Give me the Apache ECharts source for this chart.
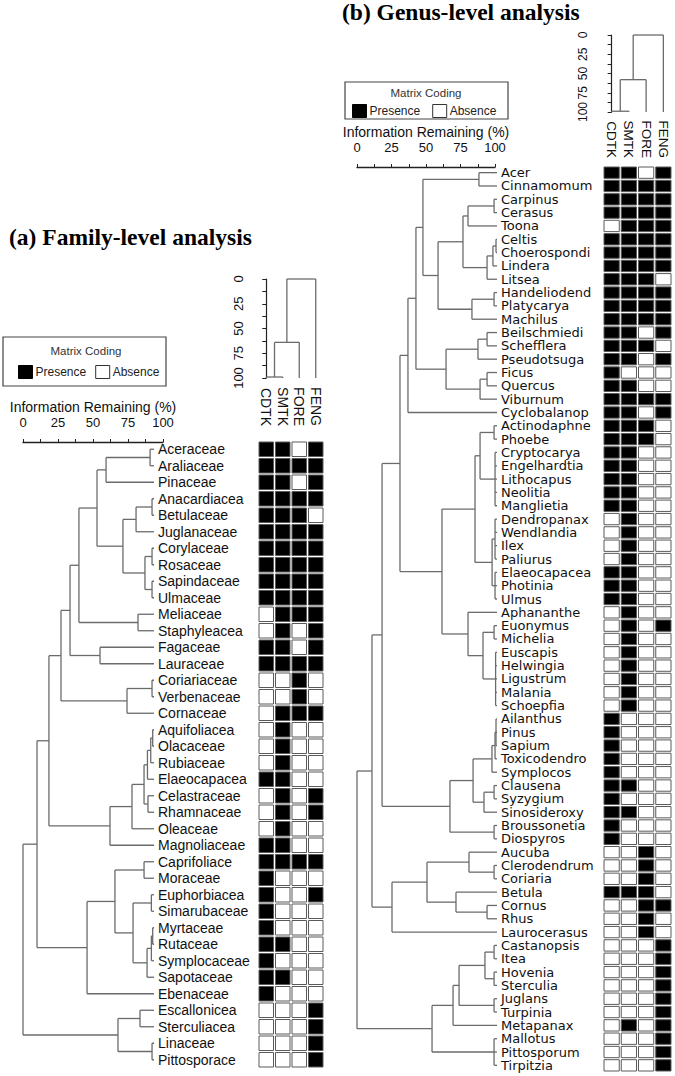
<!DOCTYPE html>
<html><head><meta charset="utf-8">
<script src="https://cdn.jsdelivr.net/npm/echarts@6/dist/echarts.min.js"></script>
<style>html,body{margin:0;padding:0;background:#fff}#c{width:675px;height:1076px}</style>
</head><body><div id="c"></div>
<script>
// ---------------- DATA ----------------
const sites = ['CDTK', 'SMTK', 'FORE', 'FENG'];

const familyNames = ['Aceraceae','Araliaceae','Pinaceae','Anacardiacea','Betulaceae','Juglanaceae','Corylaceae','Rosaceae','Sapindaceae','Ulmaceae','Meliaceae','Staphyleacea','Fagaceae','Lauraceae','Coriariaceae','Verbenaceae','Cornaceae','Aquifoliacea','Olacaceae','Rubiaceae','Elaeocapacea','Celastraceae','Rhamnaceae','Oleaceae','Magnoliaceae','Caprifoliace','Moraceae','Euphorbiacea','Simarubaceae','Myrtaceae','Rutaceae','Symplocaceae','Sapotaceae','Ebenaceae','Escallonicea','Sterculiacea','Linaceae','Pittosporace'];

// presence (1) / absence (0) per site: CDTK, SMTK, FORE, FENG
const familyMatrix = [
  [1,1,0,1],[1,1,1,1],[1,1,0,1],[1,1,1,1],[1,1,1,0],[1,1,1,1],[1,1,1,1],[1,1,1,1],[1,1,1,1],[1,1,1,1],
  [0,1,1,1],[0,1,0,1],[1,1,0,1],[1,1,1,1],[0,0,1,0],[0,0,1,0],[0,1,1,1],[0,1,0,0],[0,1,0,0],[0,1,0,0],
  [1,1,0,0],[0,1,0,1],[0,1,0,1],[0,1,0,0],[1,1,0,0],[1,1,1,1],[1,0,0,0],[1,0,0,1],[1,0,0,0],[1,0,0,0],
  [1,1,0,0],[1,0,0,0],[1,1,0,0],[1,0,0,0],[0,0,0,1],[0,0,0,1],[0,0,0,1],[0,0,0,1]
];

// dendrogram: [information remaining (%), child, child, ...]; numbers = leaf row index
const familyTree = [0,
  [10.7,
    [19.8,
      [29,
        [35.9,
          [42.7,
            [56.5,
              [63.4, [97, 0, 1], 2],
              [76.3, [86.3, [98.5, 3, 4], 5], [93.1, [98.5, 6, 7], [98.5, 8, 9]]]],
            [87.8, 10, 11]],
          [58.8, 12, 13]],
        [79.4, [98.5, 14, 15], 16]],
      [66.4, [83.2, [92.4, [95, [97.5, [99, 17, 18], 19], 20], [95.4, 21, 22]], 23], 24]],
    [48.9, [70.2, [92.4, 25, 26], [84, [98, 27, 28], [94.7, [98, [99, 29, 30], 31], 32]]], 33]],
  [72.5, [89.3, 34, 35], [98.5, 36, 37]]];

const familySiteTree = [0, [64, [99, 0, 1], 2], 3];

const genusNames = ['Acer','Cinnamomum','Carpinus','Cerasus','Toona','Celtis','Choerospondi','Lindera','Litsea','Handeliodend','Platycarya','Machilus','Beilschmiedi','Schefflera','Pseudotsuga','Ficus','Quercus','Viburnum','Cyclobalanop','Actinodaphne','Phoebe','Cryptocarya','Engelhardtia','Lithocapus','Neolitia','Manglietia','Dendropanax','Wendlandia','Ilex','Paliurus','Elaeocapacea','Photinia','Ulmus','Aphananthe','Euonymus','Michelia','Euscapis','Helwingia','Ligustrum','Malania','Schoepfia','Ailanthus','Pinus','Sapium','Toxicodendro','Symplocos','Clausena','Syzygium','Sinosideroxy','Broussonetia','Diospyros','Aucuba','Clerodendrum','Coriaria','Betula','Cornus','Rhus','Laurocerasus','Castanopsis','Itea','Hovenia','Sterculia','Juglans','Turpinia','Metapanax','Mallotus','Pittosporum','Tirpitzia'];

const genusMatrix = [
  [1,1,0,1],[1,1,1,1],[1,1,1,1],[1,1,1,1],[0,1,1,1],[1,1,1,1],[1,1,1,1],[1,1,1,1],[1,1,1,0],[1,1,1,1],
  [1,1,1,1],[1,1,1,1],[1,1,0,1],[1,1,1,0],[1,1,0,1],[1,0,0,0],[1,1,0,0],[1,1,1,1],[1,1,0,1],[1,1,1,0],
  [1,1,1,0],[1,1,0,0],[1,1,0,0],[1,1,0,0],[1,1,0,0],[1,1,0,0],[0,1,0,0],[0,1,0,0],[0,1,0,0],[0,1,0,0],
  [1,1,0,0],[1,1,0,0],[1,1,0,0],[0,1,0,0],[0,1,0,1],[0,1,0,0],[0,1,0,0],[0,1,0,0],[0,1,0,0],[0,1,0,0],
  [0,1,0,0],[1,0,0,0],[1,0,0,0],[1,0,0,0],[1,0,0,0],[1,0,0,0],[1,1,0,0],[1,0,0,0],[1,1,0,0],[1,0,0,0],
  [1,0,0,0],[0,0,1,0],[0,0,1,0],[0,0,1,0],[1,1,1,0],[0,0,1,1],[0,0,1,0],[0,0,1,0],[0,0,0,1],[0,0,0,1],
  [0,0,0,1],[0,0,0,1],[0,0,0,1],[0,0,0,1],[0,1,0,1],[0,0,0,1],[0,0,0,1],[0,0,0,1]
];

const genusTree = [0,
  [10.7,
    [17.9,
      [30.7,
        [36.4,
          [42.1,
            [47.1, [87.1, 0, 1],
              [57.9,
                [75.7, [79.3, [97.9, 2, 3], 4], [92.9, [97.1, [99.3, 5, 6], 7], 8]],
                [82.1, [97.9, 9, 10], 11]]],
            [63.6, [86.4, [92.9, 12, 13], 14], [87.9, [92.9, 15, 16], 17]]],
          18],
        [60.7,
          [84.3,
            [87.9, [97.9, 19, 20], [98.6, 21, 22, 23, 24, 25]],
            [96.5, [98.6, 26, 27, 28, 29], [98.6, 30, 31, 32]]],
          [79.3, 33, [90, [97.9, 34, 35], [99, 36, 37, 38, 39, 40]]]]],
      [66.4,
        [82.9, [96.4, [98.6, [99.3, 41, 42, 43], 44], 45], [90.7, [97.9, 46, 47], 48]],
        [97.9, 49, 50]]],
    [25, [50, [80, 51, [97.9, 52, 53]], [70.7, 54, [92.9, 55, 56]]], 57]],
  [53.6, [68.6, [72.9, [91.4, [97.9, 58, 59], [97.9, 60, 61]], [97.9, 62, 63]], 64], [97.9, 65, 66, 67]]];

const genusSiteTree = [0, [58, [99, 0, 1], 2], 3];

// ---------------- HELPERS ----------------
// turns a nested tree into segments [h1, pos1, h2, pos2] in data units
function treeSegments(tree) {
  const segs = [];
  (function walk(node) {
    if (typeof node === 'number') return { h: 100, p: node };
    const h = node[0];
    const kids = node.slice(1).map(walk);
    const a = kids[0].p, b = kids[kids.length - 1].p;
    segs.push([h, a, h, b]);
    kids.forEach(k => segs.push([h, k.p, k.h, k.p]));
    return { h: h, p: (a + b) / 2 };
  })(tree);
  return segs;
}
function cells(matrix, val) {
  const out = [];
  matrix.forEach((row, r) => row.forEach((v, c) => { if (v === val) out.push([c, r]); }));
  return out;
}

const LINE = '#6b6b6b';
const SANS = 'Liberation Sans, Arial, sans-serif';
const WIDE = 'DejaVu Sans, Verdana, sans-serif';

function rowDend(params, api) {
  const p1 = api.coord([api.value(0), api.value(1)]);
  const p2 = api.coord([api.value(2), api.value(3)]);
  return { type: 'line', shape: { x1: p1[0], y1: p1[1], x2: p2[0], y2: p2[1] }, style: { stroke: LINE, lineWidth: 1.3 } };
}
function colDend(params, api) {
  const p1 = api.coord([api.value(1), api.value(0)]);
  const p2 = api.coord([api.value(3), api.value(2)]);
  return { type: 'line', shape: { x1: p1[0], y1: p1[1], x2: p2[0], y2: p2[1] }, style: { stroke: LINE, lineWidth: 1.3 } };
}
function cellRender(fill) {
  return function (params, api) {
    const c = api.coord([api.value(0), api.value(1)]);
    const s = api.size([1, 1]);
    return { type: 'rect', shape: { x: c[0] - s[0] / 2 + 1, y: c[1] - s[1] / 2 + 1, width: s[0] - 2, height: s[1] - 2 },
      style: { fill: fill, stroke: '#5a5a5a', lineWidth: 1 } };
  };
}

// ---------------- LAYOUT ----------------
const P = {
  f: { dend: [23, 441, 131, 627], mat: [258, 441, 66, 627], col: [258, 279, 66, 99], scale: [23, 432, 140, 10],
       n: familyNames.length, rowFont: 14, rowFam: SANS, colFont: 14, colMargin: 15, axFont: 13, colAxOffset: 7 },
  g: { dend: [357, 166, 140, 906], mat: [603, 166, 69, 906], col: [603, 35, 69, 77], scale: [357, 157, 138, 10],
       n: genusNames.length, rowFont: 13, rowFam: WIDE, colFont: 13.5, colMargin: 8, axFont: 12, colAxOffset: 8 }
};
const grids = [], xAxes = [], yAxes = [], series = [];
function g(b) { return { left: b[0], top: b[1], width: b[2], height: b[3], containLabel: false }; }

function addPanel(cfg, names, matrix, tree, siteTree) {
  const gi = grids.length;
  grids.push(g(cfg.dend), g(cfg.mat), g(cfg.col), g(cfg.scale));
  const hide = { show: false };
  const xi = xAxes.length, yi = yAxes.length;
  // dendrogram grid
  xAxes.push({ gridIndex: gi, type: 'value', min: 0, max: 100, show: false });
  yAxes.push({ gridIndex: gi, type: 'value', min: -0.5, max: cfg.n - 0.5, inverse: true, show: false });
  yAxes.push({ gridIndex: gi, type: 'category', data: names, inverse: true, position: 'right',
    axisLine: hide, axisTick: hide, splitLine: hide,
    axisLabel: { interval: 0, margin: 4, fontSize: cfg.rowFont, fontFamily: cfg.rowFam, color: '#111' } });
  // matrix grid
  xAxes.push({ gridIndex: gi + 1, type: 'category', data: sites, position: 'top',
    axisLine: hide, axisTick: hide, splitLine: hide,
    axisLabel: { interval: 0, rotate: 90, margin: cfg.colMargin, fontSize: cfg.colFont, fontFamily: SANS, color: '#111' } });
  yAxes.push({ gridIndex: gi + 1, type: 'category', data: names, inverse: true, show: false });
  // column dendrogram grid
  xAxes.push({ gridIndex: gi + 2, type: 'value', min: -0.5, max: 3.5, show: false });
  yAxes.push({ gridIndex: gi + 2, type: 'value', min: 0, max: 100, interval: 25, inverse: true, position: 'left', offset: cfg.colAxOffset,
    axisLine: { show: true, lineStyle: { color: '#222', width: 1.2 } },
    axisTick: { show: true, length: 4, lineStyle: { color: '#222' } },
    minorTick: { show: true, splitNumber: 2, length: 4, lineStyle: { color: '#222' } },
    splitLine: hide,
    axisLabel: { rotate: 90, margin: 6, fontSize: cfg.axFont, fontFamily: SANS, color: '#111' } });
  // scale bar grid
  xAxes.push({ gridIndex: gi + 3, type: 'value', min: 0, max: 100, interval: 25, position: 'top',
    name: 'Information Remaining (%)', nameLocation: 'middle', nameGap: 18,
    nameTextStyle: { fontSize: 14, fontFamily: SANS, color: '#111' },
    axisLine: { show: true, lineStyle: { color: '#222', width: 1.4 } },
    axisTick: { show: true, length: 3, lineStyle: { color: '#222' } },
    minorTick: { show: true, splitNumber: 2, length: 3, lineStyle: { color: '#222' } },
    splitLine: hide,
    axisLabel: { margin: 3, fontSize: 13, fontFamily: SANS, color: '#111' } });
  yAxes.push({ gridIndex: gi + 3, type: 'value', show: false });

  series.push({ type: 'custom', xAxisIndex: xi, yAxisIndex: yi, renderItem: rowDend, data: treeSegments(tree), silent: true });
  series.push({ type: 'custom', name: 'Presence', xAxisIndex: xi + 1, yAxisIndex: yi + 2, renderItem: cellRender('#000'),
    itemStyle: { color: '#000' }, data: cells(matrix, 1), silent: true });
  series.push({ type: 'custom', name: 'Absence', xAxisIndex: xi + 1, yAxisIndex: yi + 2, renderItem: cellRender('#fff'),
    itemStyle: { color: '#fff', borderColor: '#000' }, data: cells(matrix, 0), silent: true });
  series.push({ type: 'custom', xAxisIndex: xi + 2, yAxisIndex: yi + 3, renderItem: colDend, data: treeSegments(siteTree), silent: true });
}
addPanel(P.f, familyNames, familyMatrix, familyTree, familySiteTree);
addPanel(P.g, genusNames, genusMatrix, genusTree, genusSiteTree);

function legendCfg(left, top, gap, font) {
  return { left: left, top: top, padding: 0, itemWidth: 14, itemHeight: 13, itemGap: gap, selectedMode: false,
    textStyle: { fontSize: font, fontFamily: SANS, color: '#222', padding: [0, 0, 0, -2] },
    data: [{ name: 'Presence', icon: 'rect', itemStyle: { color: '#000', borderColor: '#000', borderWidth: 1 } },
           { name: 'Absence', icon: 'rect', itemStyle: { color: '#fff', borderColor: '#333', borderWidth: 1 } }] };
}

const option = {
  animation: false,
  backgroundColor: '#fff',
  title: [
    { text: '(a) Family-level analysis', left: 9, top: 225, padding: 0,
      textStyle: { fontFamily: 'Liberation Serif, Times New Roman, serif', fontWeight: 'bold', fontSize: 23.5, color: '#000' } },
    { text: '(b) Genus-level analysis', left: 342, top: 0, padding: 0,
      textStyle: { fontFamily: 'Liberation Serif, Times New Roman, serif', fontWeight: 'bold', fontSize: 23.5, color: '#000' } }
  ],
  legend: [legendCfg(18, 365, 9, 12), legendCfg(352, 104, 12, 12)],
  graphic: [
    { type: 'rect', z: -1, shape: { x: 3, y: 337, width: 163, height: 49 }, style: { fill: '#fff', stroke: '#444', lineWidth: 1.2 } },
    { type: 'text', x: 86, y: 351, style: { text: 'Matrix Coding', fontSize: 11.5, fontFamily: SANS, fill: '#333', align: 'center', verticalAlign: 'middle' } },
    { type: 'rect', z: -1, shape: { x: 345, y: 82, width: 163, height: 37 }, style: { fill: '#fff', stroke: '#444', lineWidth: 1.2 } },
    { type: 'text', x: 426, y: 93, style: { text: 'Matrix Coding', fontSize: 11.5, fontFamily: SANS, fill: '#333', align: 'center', verticalAlign: 'middle' } }
  ],
  grid: grids,
  xAxis: xAxes,
  yAxis: yAxes,
  series: series
};
const chart = echarts.init(document.getElementById('c'), null, { renderer: 'svg', width: 675, height: 1076 });
chart.setOption(option);
</script>
</body></html>
